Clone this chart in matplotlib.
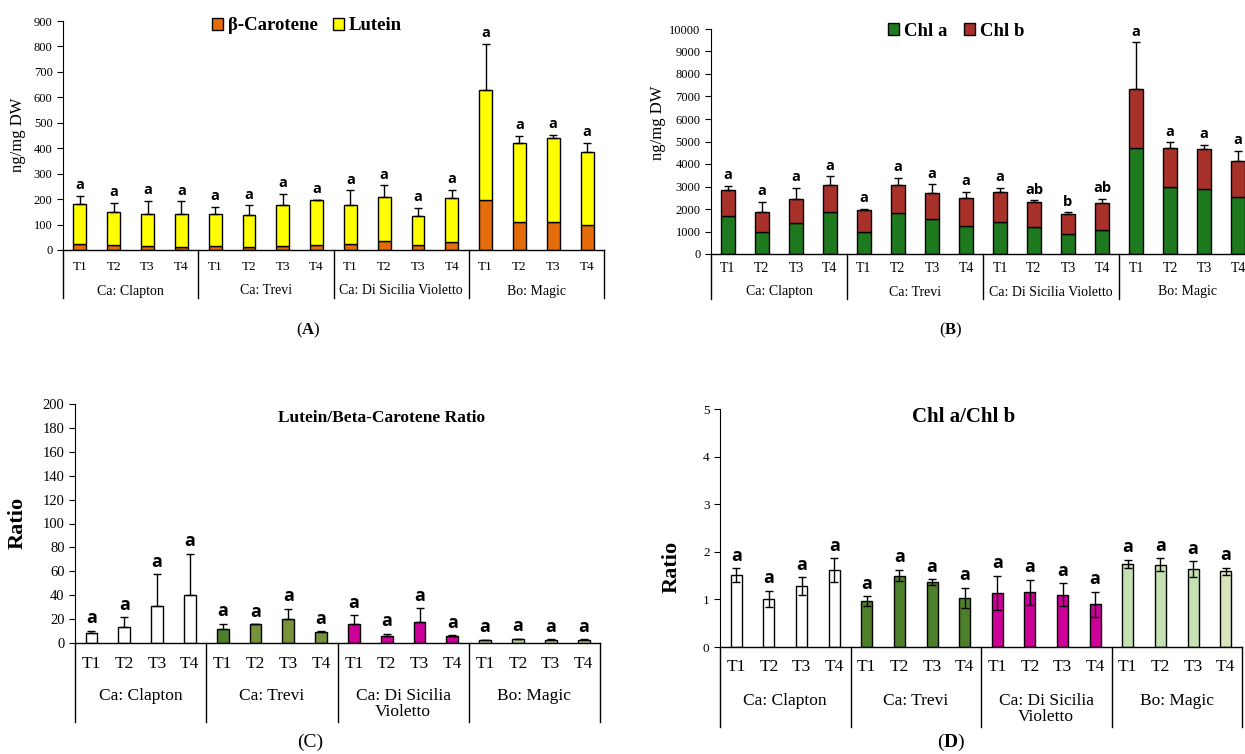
import matplotlib
matplotlib.use("Agg")
import matplotlib.pyplot as plt
from matplotlib.patches import Patch

# figure size in pixels (dpi 100)
W, H = 1245, 754

plt.rcParams["font.family"] = ["Liberation Serif", "DejaVu Sans"]
plt.rcParams["mathtext.fontset"] = "custom"
plt.rcParams["mathtext.rm"] = "Liberation Serif"
plt.rcParams["mathtext.bf"] = "Liberation Serif:bold"

groups = ["Ca: Clapton", "Ca: Trevi", "Ca: Di Sicilia Violetto", "Bo: Magic"]
groups_wrapped = ["Ca: Clapton", "Ca: Trevi", "Ca: Di Sicilia\nVioletto", "Bo: Magic"]
treatments = ["T1", "T2", "T3", "T4"]

# (A) carotenoids, ng/mg DW
carotene = [23, 20, 15, 12, 15, 10, 15, 20, 22, 35, 18, 30, 195, 110, 110, 97]
lutein = [157, 129, 126, 129, 126, 126, 160, 176, 156, 173, 115, 175, 433, 309, 330, 288]
carot_err = [34, 36, 52, 50, 29, 39, 47, 2, 56, 47, 34, 31, 183, 31, 13, 37]
carot_letters = ["a"] * 16

# (B) chlorophylls, ng/mg DW
chl_a = [1700, 960, 1380, 1850, 960, 1810, 1540, 1260, 1410, 1200, 900, 1050, 4690, 2970, 2910, 2540]
chl_b = [1150, 910, 1070, 1210, 1010, 1250, 1160, 1220, 1340, 1100, 870, 1220, 2640, 1750, 1750, 1610]
chl_err = [190, 460, 500, 400, 50, 320, 400, 290, 200, 100, 90, 180, 2090, 250, 190, 450]
chl_letters = ["a"] * 9 + ["ab", "b", "ab"] + ["a"] * 4

# (C) lutein / beta-carotene ratio
lut_car_ratio = [8.4, 13.4, 31.2, 39.9, 11.7, 15.6, 20.4, 8.9, 15.6, 6.1, 17.6, 6.1, 2.2, 3.1, 2.8, 2.8]
lut_car_err = [1.9, 8.1, 26.5, 34.9, 4.5, 0.3, 8.1, 0.9, 7.6, 1.7, 11.4, 0.3, 0.4, 0.3, 0.2, 0.2]

# (D) chl a / chl b ratio
chl_ratio = [1.51, 1.01, 1.28, 1.62, 0.97, 1.50, 1.36, 1.03, 1.14, 1.15, 1.10, 0.90, 1.74, 1.73, 1.64, 1.59]
chl_ratio_err = [0.15, 0.17, 0.19, 0.25, 0.10, 0.12, 0.06, 0.22, 0.36, 0.26, 0.24, 0.26, 0.09, 0.13, 0.16, 0.08]

colors_c = ["white"] * 4 + ["#4E7F2A", "#77933C", "#77933C", "#77933C"] + ["#CC0099"] * 4 + ["#C4D79B"] * 4
colors_d = ["white"] * 4 + ["#4E7F2A"] * 4 + ["#CC0099"] * 4 + ["#C5E0B3"] * 3 + ["#D8E4BC"]

fig = plt.figure(figsize=(W / 100, H / 100), dpi=100)


def make_axes(left, top, right, bottom):
    return fig.add_axes([left / W, 1 - bottom / H, (right - left) / W, (bottom - top) / H])


def category_axis(ax, ax_h, names, t_y, g_y, sep_y, t_size, g_size, g_va="center"):
    # distances are pixels below the zero line
    n = len(names) * 4
    ax.set_xlim(-0.5, n - 0.5)
    ax.set_xticks([])
    tr = ax.get_xaxis_transform()
    for i in range(n):
        ax.text(i, -t_y / ax_h, treatments[i % 4], transform=tr, ha="center", va="center", fontsize=t_size)
    for g, name in enumerate(names):
        ax.text(g * 4 + 1.5, -g_y / ax_h, name, transform=tr, ha="center", va=g_va,
                fontsize=g_size, linespacing=1.0)
    for s in range(len(names) + 1):
        ax.plot([s * 4 - 0.5] * 2, [0, -sep_y / ax_h], transform=tr, color="black", lw=1, clip_on=False)
    ax.spines["top"].set_visible(False)
    ax.spines["right"].set_visible(False)
    ax.spines["left"].set_linewidth(0.8)
    ax.spines["bottom"].set_linewidth(1)
    ax.tick_params(axis="y", direction="out", length=4, width=0.8)


def add_letters(ax, x, tops, letters, size):
    for xi, top, let in zip(x, tops, letters):
        ax.annotate(let, (xi, top), xytext=(0, 2.5), textcoords="offset points", ha="center", va="bottom",
                    fontsize=size, fontweight="bold", family="Open Sans", annotation_clip=False)


def legend_at(handles, labels, cx, cy, spacing):
    fig.legend(handles, labels, loc="center", bbox_to_anchor=(cx / W, 1 - cy / H), ncol=2, frameon=False,
               prop=dict(family="Liberation Serif", weight="bold", size=13.5), handlelength=0.6,
               handleheight=0.6, handletextpad=0.25, columnspacing=spacing)


x = list(range(16))

# ---- (A) ----
axA = make_axes(63, 21, 604, 250)
totA = [c + l for c, l in zip(carotene, lutein)]
axA.bar(x, carotene, width=0.38, color="#E46C0A", edgecolor="black", linewidth=1)
axA.bar(x, lutein, width=0.38, bottom=carotene, color="#FFFF00", edgecolor="black", linewidth=1)
axA.errorbar(x, totA, yerr=[[0] * 16, carot_err], fmt="none", ecolor="black", elinewidth=1, capsize=3, capthick=1)
add_letters(axA, x, [t + e for t, e in zip(totA, carot_err)], carot_letters, 10.5)
axA.set_ylim(0, 900)
axA.set_yticks(range(0, 901, 100))
axA.tick_params(axis="y", labelsize=9)
category_axis(axA, 229, groups, 17, 41, 48, 9.5, 10)
fig.text(18 / W, 1 - 135 / H, "ng/mg DW", rotation=90, ha="center", va="center", fontsize=12)
legend_at([Patch(facecolor="#E46C0A", edgecolor="black"), Patch(facecolor="#FFFF00", edgecolor="black")],
          ["β-Carotene", "Lutein"], 307, 26, 0.8)
fig.text(308 / W, 1 - 330 / H, r"($\mathbf{A}$)", ha="center", va="center", fontsize=12)

# ---- (B) ----
axB = make_axes(711, 29, 1255, 254)
totB = [a + b for a, b in zip(chl_a, chl_b)]
axB.bar(x, chl_a, width=0.41, color="#1F7A1F", edgecolor="black", linewidth=1)
axB.bar(x, chl_b, width=0.41, bottom=chl_a, color="#A8312A", edgecolor="black", linewidth=1)
axB.errorbar(x, totB, yerr=[[0] * 16, chl_err], fmt="none", ecolor="black", elinewidth=1, capsize=3, capthick=1)
add_letters(axB, x, [t + e for t, e in zip(totB, chl_err)], chl_letters, 10.5)
axB.set_ylim(0, 10000)
axB.set_yticks(range(0, 10001, 1000))
axB.tick_params(axis="y", labelsize=9)
category_axis(axB, 225, groups, 14, 38, 45, 10, 10)
fig.text(658 / W, 1 - 123 / H, "ng/mg DW", rotation=90, ha="center", va="center", fontsize=12)
legend_at([Patch(facecolor="#1F7A1F", edgecolor="black"), Patch(facecolor="#A8312A", edgecolor="black")],
          ["Chl a", "Chl b"], 956, 31, 0.9)
fig.text(951 / W, 1 - 330 / H, r"($\mathbf{B}$)", ha="center", va="center", fontsize=12)

# ---- (C) ----
axC = make_axes(75, 404, 600, 643)
axC.bar(x, lut_car_ratio, width=0.36, color=colors_c, edgecolor="black", linewidth=1)
axC.errorbar(x, lut_car_ratio, yerr=[[0] * 16, lut_car_err], fmt="none", ecolor="black", elinewidth=1,
             capsize=3, capthick=1)
add_letters(axC, x, [v + e for v, e in zip(lut_car_ratio, lut_car_err)], ["a"] * 16, 13)
axC.set_ylim(0, 200)
axC.set_yticks(range(0, 201, 20))
axC.tick_params(axis="y", labelsize=10.5)
category_axis(axC, 239, groups_wrapped, 21, 45, 79, 12.5, 12.5, g_va="top")
axC.set_title("Lutein/Beta-Carotene Ratio", fontsize=12.5, fontweight="bold", x=(382 - 75) / 525, y=0.89)
fig.text(18 / W, 1 - 523 / H, "Ratio", rotation=90, ha="center", va="center", fontsize=16, fontweight="bold")
fig.text(310 / W, 1 - 742 / H, "(C)", ha="center", va="center", fontsize=14)

# ---- (D) ----
axD = make_axes(720, 409, 1242, 647)
axD.bar(x, chl_ratio, width=0.34, color=colors_d, edgecolor="black", linewidth=1)
axD.errorbar(x, chl_ratio, yerr=chl_ratio_err, fmt="none", ecolor="black", elinewidth=1, capsize=3, capthick=1)
add_letters(axD, x, [v + e for v, e in zip(chl_ratio, chl_ratio_err)], ["a"] * 16, 13)
axD.set_ylim(0, 5)
axD.set_yticks(range(0, 6))
axD.tick_params(axis="y", labelsize=9.5)
category_axis(axD, 238, groups_wrapped, 20, 46, 80, 12.5, 12.5, g_va="top")
axD.set_title("Chl a/Chl b", fontsize=15, fontweight="bold", x=(964 - 720) / 522, y=0.91)
fig.text(672 / W, 1 - 567 / H, "Ratio", rotation=90, ha="center", va="center", fontsize=16, fontweight="bold")
fig.text(951 / W, 1 - 742 / H, r"($\mathbf{D}$)", ha="center", va="center", fontsize=14)

fig.savefig("out.png", dpi=100)
